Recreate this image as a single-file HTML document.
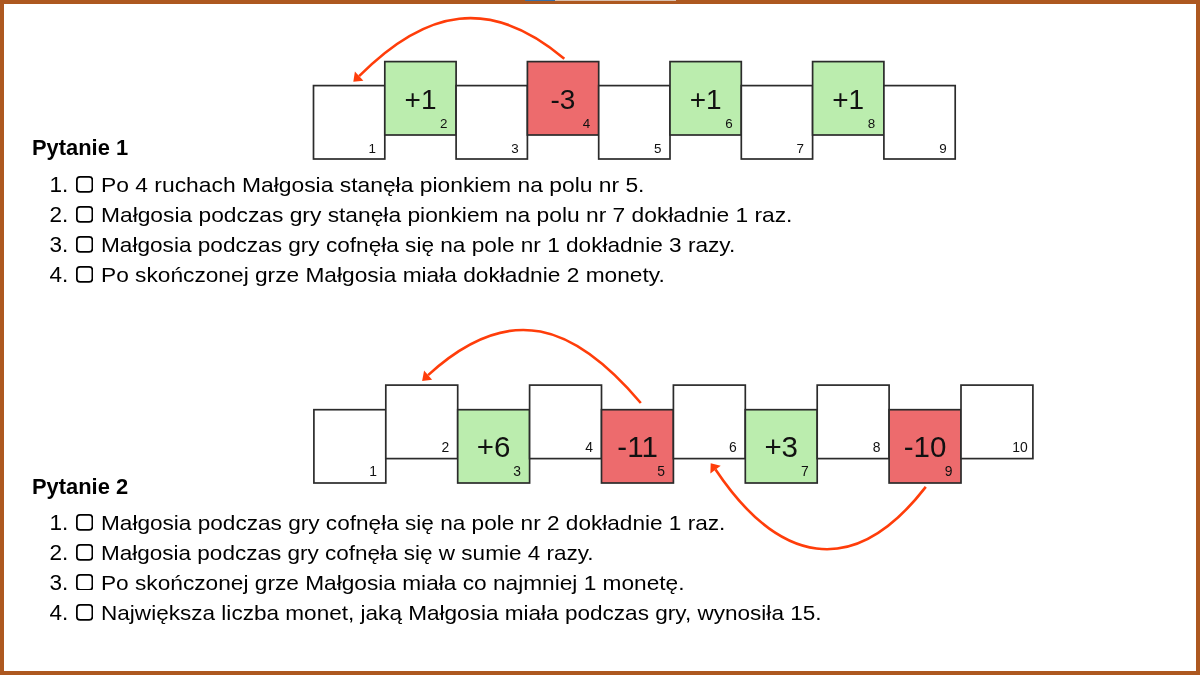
<!DOCTYPE html>
<html><head><meta charset="utf-8">
<style>
html,body{margin:0;padding:0;}
body{width:1200px;height:675px;position:relative;overflow:hidden;background:#fff;will-change:transform;font-family:"Liberation Sans",sans-serif;color:#000;}
.frame{position:absolute;left:0;top:0;width:1200px;height:675px;box-sizing:border-box;border:4px solid #AD5820;}
.pb1{position:absolute;left:525px;top:0;width:30px;height:1px;background:#3A6DA3;}
.pb2{position:absolute;left:555px;top:0;width:121px;height:1px;background:#D8BEAC;}
.h{position:absolute;left:32px;font-weight:bold;font-size:21.9px;line-height:21.9px;white-space:nowrap;}
.li{position:absolute;left:51px;font-size:21.1px;line-height:22.5px;white-space:nowrap;}
.li .n{position:absolute;left:-1.5px;top:0;font-size:22.5px;}
.li .cb{position:absolute;left:24.75px;top:2.15px;width:17.25px;height:16.75px;}
.li .cb svg{position:absolute;left:0;top:0;}
.li .t{position:absolute;left:49.5px;top:0;transform-origin:0 0;transform:scaleX(var(--sx));}
svg{position:absolute;left:0;top:0;}
</style></head>
<body>
<div class="frame"></div>
<div class="pb1"></div><div class="pb2"></div>

<svg width="1200" height="675" viewBox="0 0 1200 675" font-family="Liberation Sans, sans-serif">
  <g stroke="#2b2b2b" stroke-width="1.7" fill="#fff">
    <!-- board 1 -->
    <rect x="313.5" y="85.6" width="71.3" height="73.4"/>
    <rect x="384.8" y="61.6" width="71.3" height="73.4" fill="#BBEDAE"/>
    <rect x="456.1" y="85.6" width="71.3" height="73.4"/>
    <rect x="527.4" y="61.6" width="71.3" height="73.4" fill="#ED6B6D"/>
    <rect x="598.7" y="85.6" width="71.3" height="73.4"/>
    <rect x="670.0" y="61.6" width="71.3" height="73.4" fill="#BBEDAE"/>
    <rect x="741.3" y="85.6" width="71.3" height="73.4"/>
    <rect x="812.6" y="61.6" width="71.3" height="73.4" fill="#BBEDAE"/>
    <rect x="883.9" y="85.6" width="71.3" height="73.4"/>
    <!-- board 2 -->
    <rect x="313.9" y="409.7" width="71.9" height="73.3"/>
    <rect x="385.8" y="385.1" width="71.9" height="73.5"/>
    <rect x="457.7" y="409.7" width="71.9" height="73.3" fill="#BBEDAE"/>
    <rect x="529.6" y="385.1" width="71.9" height="73.5"/>
    <rect x="601.5" y="409.7" width="71.9" height="73.3" fill="#ED6B6D"/>
    <rect x="673.4" y="385.1" width="71.9" height="73.5"/>
    <rect x="745.3" y="409.7" width="71.9" height="73.3" fill="#BBEDAE"/>
    <rect x="817.2" y="385.1" width="71.9" height="73.5"/>
    <rect x="889.1" y="409.7" width="71.9" height="73.3" fill="#ED6B6D"/>
    <rect x="961.0" y="385.1" width="71.9" height="73.5"/>
  </g>
  <g fill="#111" font-size="28" text-anchor="middle">
    <text x="420.5" y="109">+1</text>
    <text x="563" y="109">-3</text>
    <text x="705.6" y="109">+1</text>
    <text x="848.2" y="109">+1</text>
  </g>
  <g fill="#111" font-size="29.5" text-anchor="middle">
    <text x="493.6" y="457.4">+6</text>
    <text x="637.6" y="457.4">-11</text>
    <text x="781.2" y="457.4">+3</text>
    <text x="925" y="457.4">-10</text>
  </g>
  <g fill="#111" font-size="13.4" text-anchor="end">
    <text x="376" y="153">1</text>
    <text x="447.5" y="128">2</text>
    <text x="518.8" y="153">3</text>
    <text x="590.1" y="128">4</text>
    <text x="661.4" y="153">5</text>
    <text x="732.7" y="128">6</text>
    <text x="804" y="153">7</text>
    <text x="875.3" y="128">8</text>
    <text x="946.6" y="153">9</text>

  </g>
  <g fill="#111" font-size="13.9" text-anchor="end">
    <text x="377" y="476.4">1</text>
    <text x="449.2" y="451.9">2</text>
    <text x="521.1" y="476.4">3</text>
    <text x="593" y="451.9">4</text>
    <text x="664.9" y="476.4">5</text>
    <text x="736.8" y="451.9">6</text>
    <text x="808.7" y="476.4">7</text>
    <text x="880.4" y="451.9">8</text>
    <text x="952.5" y="476.4">9</text>
    <text x="1027.8" y="451.9">10</text>
  </g>
  <g stroke="#FF3D0A" stroke-width="2.6" fill="none">
    <path d="M564.3 58.7 C490.7 -3.5 426.5 8.4 359.1 76.2"/>
    <path d="M640.8 403.0 C574.5 324.8 510.3 300.0 428.1 375.1"/>
    <path d="M925.8 486.9 C852.5 581.6 777.7 562.4 715.5 469.5"/>
  </g>
  <g fill="#FF3D0A">
    <polygon points="353.3,81.7 354.9,71.6 363.4,80.7"/>
    <polygon points="422.1,380.9 424.1,370.4 432.1,379.8"/>
    <polygon points="710.7,463.2 720.7,465.7 710.4,473.4"/>
  </g>
</svg>

<div class="h" style="top:137.2px">Pytanie 1</div>
<div class="li" style="top:174.3px;--sx:1.0829"><span class="n">1.</span><span class="cb"><svg width="17.25" height="16.75"><rect x="0.875" y="0.875" width="15.5" height="15" rx="3.2" fill="none" stroke="#000" stroke-width="1.75"/></svg></span><span class="t">Po 4 ruchach Małgosia stanęła pionkiem na polu nr 5.</span></div>
<div class="li" style="top:204px;--sx:1.0799"><span class="n">2.</span><span class="cb"><svg width="17.25" height="16.75"><rect x="0.875" y="0.875" width="15.5" height="15" rx="3.2" fill="none" stroke="#000" stroke-width="1.75"/></svg></span><span class="t">Małgosia podczas gry stanęła pionkiem na polu nr 7 dokładnie 1 raz.</span></div>
<div class="li" style="top:234.2px;--sx:1.0718"><span class="n">3.</span><span class="cb"><svg width="17.25" height="16.75"><rect x="0.875" y="0.875" width="15.5" height="15" rx="3.2" fill="none" stroke="#000" stroke-width="1.75"/></svg></span><span class="t">Małgosia podczas gry cofnęła się na pole nr 1 dokładnie 3 razy.</span></div>
<div class="li" style="top:264px;--sx:1.0764"><span class="n">4.</span><span class="cb"><svg width="17.25" height="16.75"><rect x="0.875" y="0.875" width="15.5" height="15" rx="3.2" fill="none" stroke="#000" stroke-width="1.75"/></svg></span><span class="t">Po skończonej grze Małgosia miała dokładnie 2 monety.</span></div>

<div class="h" style="top:475.6px">Pytanie 2</div>
<div class="li" style="top:512.1px;--sx:1.0714"><span class="n">1.</span><span class="cb"><svg width="17.25" height="16.75"><rect x="0.875" y="0.875" width="15.5" height="15" rx="3.2" fill="none" stroke="#000" stroke-width="1.75"/></svg></span><span class="t">Małgosia podczas gry cofnęła się na pole nr 2 dokładnie 1 raz.</span></div>
<div class="li" style="top:542.2px;--sx:1.0672"><span class="n">2.</span><span class="cb"><svg width="17.25" height="16.75"><rect x="0.875" y="0.875" width="15.5" height="15" rx="3.2" fill="none" stroke="#000" stroke-width="1.75"/></svg></span><span class="t">Małgosia podczas gry cofnęła się w sumie 4 razy.</span></div>
<div class="li" style="top:571.6px;--sx:1.0749"><span class="n">3.</span><span class="cb"><svg width="17.25" height="16.75"><rect x="0.875" y="0.875" width="15.5" height="15" rx="3.2" fill="none" stroke="#000" stroke-width="1.75"/></svg></span><span class="t">Po skończonej grze Małgosia miała co najmniej 1 monetę.</span></div>
<div class="li" style="top:601.8px;--sx:1.0695"><span class="n">4.</span><span class="cb"><svg width="17.25" height="16.75"><rect x="0.875" y="0.875" width="15.5" height="15" rx="3.2" fill="none" stroke="#000" stroke-width="1.75"/></svg></span><span class="t">Największa liczba monet, jaką Małgosia miała podczas gry, wynosiła 15.</span></div>
</body></html>
